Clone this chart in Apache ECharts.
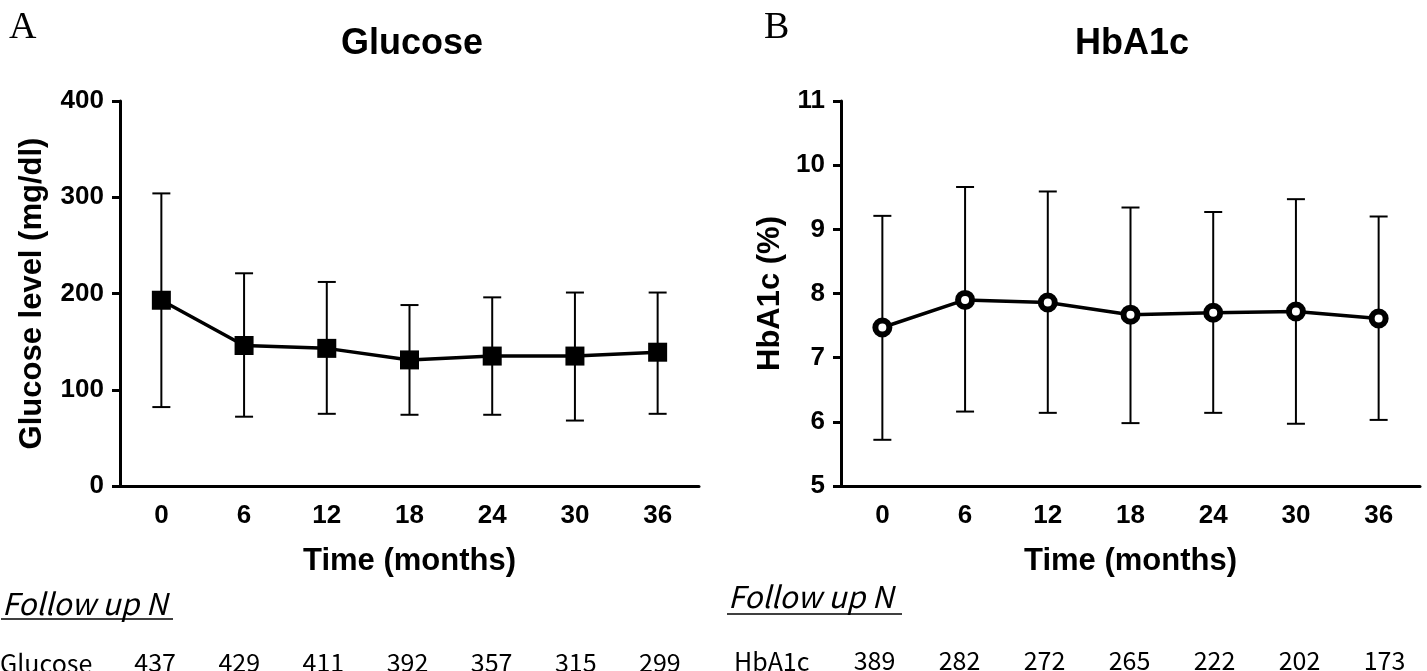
<!DOCTYPE html>
<html>
<head>
<meta charset="utf-8">
<script src="https://cdn.jsdelivr.net/npm/echarts@6/dist/echarts.min.js"></script>
<style>
html,body{margin:0;padding:0;background:#fff;}
#chart{width:1427px;height:671px;}
</style>
</head>
<body>
<div id="chart"></div>
<script>
// ---- data ----
const months = ['0', '6', '12', '18', '24', '30', '36'];

const glucoseMean = [193, 146, 143, 131, 135, 135, 139];
const glucoseUpper = [304, 221, 212, 188, 196, 201, 201];
const glucoseLower = [82, 72, 75, 74, 74, 68, 75];

const hba1cMean = [7.47, 7.90, 7.86, 7.67, 7.70, 7.72, 7.61];
const hba1cUpper = [9.21, 9.66, 9.59, 9.34, 9.27, 9.47, 9.20];
const hba1cLower = [5.72, 6.16, 6.14, 5.98, 6.14, 5.97, 6.03];

const glucoseTicks = [0, 100, 200, 300, 400];
const hba1cTicks = [5, 6, 7, 8, 9, 10, 11];

const glucoseN = [437, 429, 411, 392, 357, 315, 299];
const hba1cN = [389, 282, 272, 265, 222, 202, 173];

// ---- chart ----
const AX = '"Liberation Sans", Arial, Helvetica, sans-serif';
const KFONT = '"Noto Sans CJK KR", "Noto Sans", sans-serif';
const SERIF = '"Liberation Serif", "DejaVu Serif", serif';

function errData(lo, hi) {
  return lo.map((v, i) => [i, v, hi[i]]);
}
function errRender(params, api) {
  const x = api.value(0);
  const lo = api.coord([x, api.value(1)]);
  const hi = api.coord([x, api.value(2)]);
  const hw = 9;
  const st = { stroke: '#000', lineWidth: 2 };
  return {
    type: 'group',
    children: [
      { type: 'line', shape: { x1: lo[0], y1: lo[1], x2: hi[0], y2: hi[1] }, style: st },
      { type: 'line', shape: { x1: hi[0] - hw, y1: hi[1], x2: hi[0] + hw, y2: hi[1] }, style: st },
      { type: 'line', shape: { x1: lo[0] - hw, y1: lo[1], x2: lo[0] + hw, y2: lo[1] }, style: st }
    ]
  };
}

function mainX(gi) {
  return {
    type: 'category', gridIndex: gi, data: months, boundaryGap: true,
    name: 'Time (months)', nameLocation: 'middle', nameGap: 60,
    nameTextStyle: { fontFamily: AX, fontWeight: 'bold', fontSize: 31, color: '#000' },
    axisLine: { lineStyle: { color: '#000', width: 3 } },
    axisTick: { alignWithLabel: true, length: 8, lineStyle: { color: '#000', width: 3 } },
    axisLabel: { fontFamily: AX, fontWeight: 'bold', fontSize: 26, color: '#000', margin: 17 },
    splitLine: { show: false }
  };
}
function mainY(gi, name, min, max, interval, gap) {
  return {
    type: 'value', gridIndex: gi, min: min, max: max, interval: interval,
    name: name, nameLocation: 'middle', nameGap: gap, nameRotate: 90,
    nameTextStyle: { fontFamily: AX, fontWeight: 'bold', fontSize: 31, color: '#000' },
    axisLine: { show: true, lineStyle: { color: '#000', width: 3 } },
    axisTick: { show: true, length: 8, lineStyle: { color: '#000', width: 3 } },
    axisLabel: { fontFamily: AX, fontWeight: 'bold', fontSize: 26, color: '#000', margin: 16 },
    splitLine: { show: false }
  };
}
function nX(gi, vals, margin) {
  return {
    type: 'category', gridIndex: gi, data: vals.map(String), boundaryGap: true,
    axisLine: { show: false }, axisTick: { show: false },
    axisLabel: { fontFamily: KFONT, fontSize: 25, color: '#000', margin: margin, verticalAlign: 'middle' },
    splitLine: { show: false }
  };
}
function nY(gi) {
  return { type: 'value', gridIndex: gi, show: false, min: 0, max: 1 };
}

const chart = echarts.init(document.getElementById('chart'), null, { renderer: 'canvas' });
chart.setOption({
  backgroundColor: '#fff',
  animation: false,
  title: [
    { text: 'Glucose', left: 407, top: 21, textAlign: 'center',
      textStyle: { fontFamily: AX, fontWeight: 'bold', fontSize: 36, color: '#000' } },
    { text: 'HbA1c', left: 1127, top: 21, textAlign: 'center',
      textStyle: { fontFamily: AX, fontWeight: 'bold', fontSize: 36, color: '#000' } }
  ],
  grid: [
    { left: 120, top: 101, width: 579, height: 385 },
    { left: 841, top: 101, width: 579, height: 385 },
    { left: 113, top: 645, width: 589, height: 1 },
    { left: 832, top: 645, width: 607, height: 1 }
  ],
  xAxis: [mainX(0), mainX(1), nX(2, glucoseN, 17), nX(3, hba1cN, 15)],
  yAxis: [
    mainY(0, 'Glucose level (mg/dl)', glucoseTicks[0], glucoseTicks[glucoseTicks.length - 1], 100, 72),
    mainY(1, 'HbA1c (%)', hba1cTicks[0], hba1cTicks[hba1cTicks.length - 1], 1, 55),
    nY(2), nY(3)
  ],
  series: [
    { type: 'custom', xAxisIndex: 0, yAxisIndex: 0, data: errData(glucoseLower, glucoseUpper),
      renderItem: errRender, z: 1, silent: true },
    { type: 'line', xAxisIndex: 0, yAxisIndex: 0, data: glucoseMean, z: 3,
      symbol: 'rect', symbolSize: 19, showAllSymbol: true,
      lineStyle: { color: '#000', width: 3.5 }, itemStyle: { color: '#000' } },
    { type: 'custom', xAxisIndex: 1, yAxisIndex: 1, data: errData(hba1cLower, hba1cUpper),
      renderItem: errRender, z: 1, silent: true },
    { type: 'line', xAxisIndex: 1, yAxisIndex: 1, data: hba1cMean, z: 3,
      symbol: 'circle', symbolSize: 14, showAllSymbol: true,
      lineStyle: { color: '#000', width: 3.5 },
      itemStyle: { color: '#fff', borderColor: '#000', borderWidth: 6 } }
  ],
  graphic: [
    { type: 'text', x: 9, y: 28, style: { text: 'A', font: '38px ' + SERIF, fill: '#000', verticalAlign: 'middle' } },
    { type: 'text', x: 764, y: 28, style: { text: 'B', font: '38px ' + SERIF, fill: '#000', verticalAlign: 'middle' } },
    { type: 'text', x: 2, y: 604, style: { text: 'Follow up N', font: 'italic 30px ' + KFONT, fill: '#000', verticalAlign: 'middle' } },
    { type: 'line', shape: { x1: 1, y1: 619, x2: 173, y2: 619 }, style: { stroke: '#000', lineWidth: 1.5 } },
    { type: 'text', x: 728, y: 597, style: { text: 'Follow up N', font: 'italic 30px ' + KFONT, fill: '#000', verticalAlign: 'middle' } },
    { type: 'line', shape: { x1: 727, y1: 614, x2: 902, y2: 614 }, style: { stroke: '#000', lineWidth: 1.5 } },
    { type: 'text', x: 0, y: 663, style: { text: 'Glucose', font: '25px ' + KFONT, fill: '#000', verticalAlign: 'middle' } },
    { type: 'text', x: 734, y: 661, style: { text: 'HbA1c', font: '25px ' + KFONT, fill: '#000', verticalAlign: 'middle' } }
  ]
});
</script>
</body>
</html>
